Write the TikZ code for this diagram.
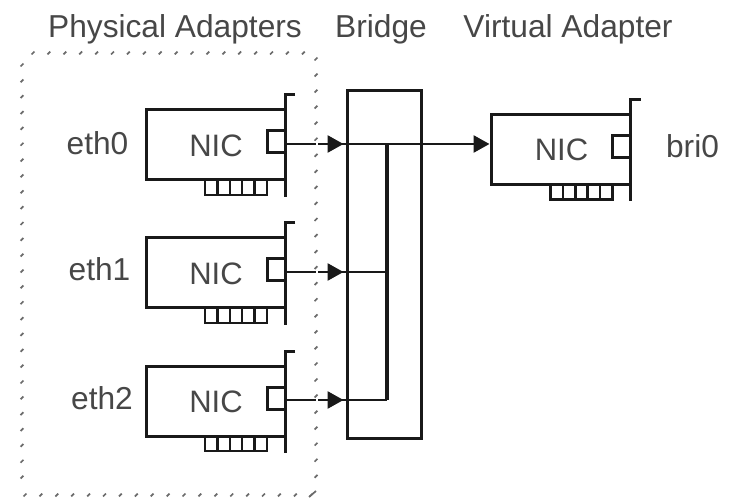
\documentclass[tikz,border=0pt]{standalone}
\usepackage{fontspec}
\setmainfont{Liberation Sans}
\usetikzlibrary{arrows.meta,calc}
\definecolor{ink}{gray}{0.10}
\definecolor{txt}{gray}{0.28}
\definecolor{tick}{gray}{0.42}
\tikzset{
  x=1pt,y=-1pt,
  wire/.style={draw=ink,line width=3pt,line join=miter},
  thin wire/.style={draw=ink,line width=2.2pt},
  link/.style={draw=ink,line width=2.7pt},
  flow/.style={link,-{Triangle[length=16pt,width=17pt]},shorten >=2pt},
  dot tick/.style={draw=tick,line width=1.7pt},
  label/.style={text=txt,font=\fontsize{31.7}{34}\selectfont,inner sep=0pt,anchor=base},
  niclabel/.style={text=txt,font=\fontsize{31}{34}\selectfont,inner sep=0pt,anchor=base},
}
% card: #1 name, #2 left x, #3 top y
\newcommand{\niccard}[3]{%
  \begin{scope}[shift={(#2,#3)}]
    \draw[wire] (139,0) -- (0,0) -- (0,70) -- (139,70);
    \draw[wire] (149,-15) -- (139,-15) -- (139,87);
    \draw[wire] (139,21) -- (121,21) -- (121,43) -- (139,43);
    \draw[thin wire] (59,70) -- (59,85) -- (121,85) -- (121,70);
    \foreach \t in {71.5,84,96,108.5} \draw[thin wire] (\t,70) -- (\t,85);
    \node[niclabel] at (70,46.5) {NIC};
    \coordinate (#1) at (139,34);
    \coordinate (#1in) at (0,30);
  \end{scope}}
\newcommand{\dottick}[2]{\draw[dot tick] (#1-1.4,#2+1.4) -- (#1+1.4,#2-1.4);}
\begin{document}
\begin{tikzpicture}
\useasboundingbox (0,0) rectangle (732,500);
\fill[white] (0,0) rectangle (732,500);
\foreach \k in {0,...,17} {\dottick{33+15.9*\k}{53}}
\foreach \k in {0,...,26} {\dottick{22}{65+15.85*\k}}
\foreach \k in {0,...,26} {\dottick{316}{59+16.05*\k}}
\foreach \k in {0,...,18} {\dottick{25+15.9*\k}{495}}
\draw[dot tick] (309,497) -- (316,491);
\niccard{a}{146}{110}
\niccard{b}{146}{238}
\niccard{c}{146}{366}
\niccard{v}{491.5}{114.5}
\node[draw=ink,line width=3pt,minimum width=74pt,minimum height=347pt,inner sep=0pt] (bridge) at (384,264.5) {};
\coordinate (j0) at (387,144);
\coordinate (j1) at (387,272);
\coordinate (j2) at (387,400);
\draw[draw=ink,line width=3.6pt] (j0) -- (j2);
\draw[link] (a) -- (j0);
\draw[link] (b) -- (j1);
\draw[link] (c) -- (j2);
\foreach \n in {a,b,c} {
  \draw[flow] (\n) -- (\n -| bridge.west);
  \fill[white] ($(\n)+(30.5,-2)$) rectangle ($(\n)+(33,2)$);
}
\draw[flow] (j0) -- (j0 -| vin);
\node[label] (t1) at (175,38) {Physical Adapters};
\node[label] (t2) at (381,38) {Bridge};
\node[label] (t3) at (568,38) {Virtual Adapter};
\node[label] (l0) at (97.5,155) {eth0};
\node[label] (l1) at (99.5,281) {eth1};
\node[label] (l2) at (102,409) {eth2};
\node[label] (l3) at (692.5,158) {bri0};
\end{tikzpicture}
\end{document}
